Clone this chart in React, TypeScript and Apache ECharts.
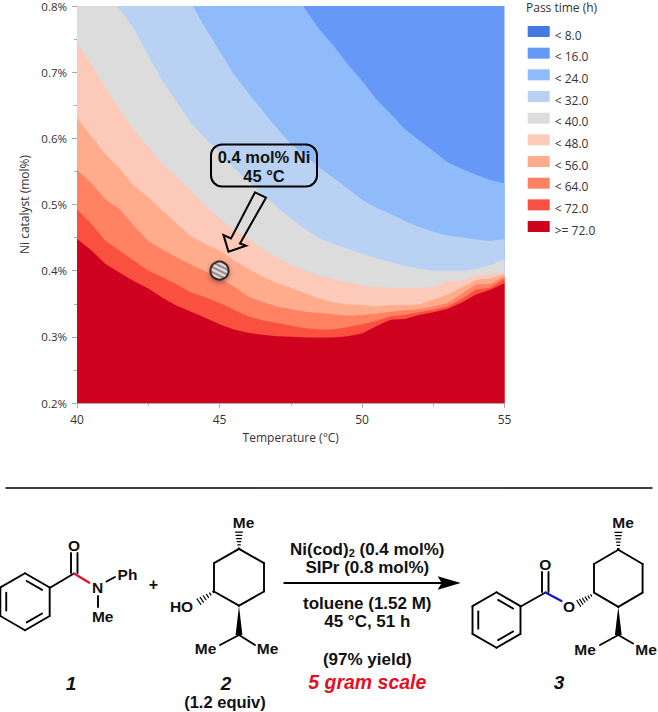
import React, { useEffect, useRef } from "react";
import * as echarts from "echarts";

// ---------- chart data ----------
const temps = [40, 40.5, 41, 41.5, 42, 42.5, 43, 43.5, 44, 44.5, 45, 45.5, 46, 46.5, 47, 47.5, 48, 48.5, 49, 49.5, 50, 50.5, 51, 51.5, 52, 52.5, 53, 53.5, 54, 54.5, 55];
const CAP = 0.8;
const cap16 = [CAP, CAP, CAP, CAP, CAP, CAP, CAP, CAP, CAP, CAP, CAP, CAP, CAP, CAP, CAP, CAP, 0.796, 0.765, 0.74, 0.712, 0.687, 0.659, 0.637, 0.614, 0.597, 0.581, 0.564, 0.554, 0.545, 0.537, 0.532];
const cap24 = [CAP, CAP, CAP, CAP, CAP, CAP, CAP, CAP, CAP, 0.767, 0.732, 0.697, 0.669, 0.642, 0.616, 0.592, 0.574, 0.556, 0.54, 0.524, 0.507, 0.495, 0.486, 0.475, 0.466, 0.459, 0.453, 0.45, 0.447, 0.445, 0.448];
const cap32 = [CAP, CAP, CAP, 0.795, 0.766, 0.725, 0.687, 0.655, 0.623, 0.6, 0.578, 0.556, 0.535, 0.515, 0.497, 0.479, 0.463, 0.449, 0.44, 0.433, 0.426, 0.419, 0.413, 0.407, 0.403, 0.4, 0.4, 0.4, 0.402, 0.409, 0.417];
const cap40 = [0.745, 0.712, 0.676, 0.644, 0.612, 0.587, 0.561, 0.542, 0.521, 0.498, 0.479, 0.462, 0.449, 0.433, 0.42, 0.409, 0.4, 0.392, 0.387, 0.382, 0.378, 0.375, 0.374, 0.374, 0.374, 0.375, 0.384, 0.384, 0.393, 0.394, 0.398];
const cap48 = [0.631, 0.603, 0.576, 0.554, 0.528, 0.511, 0.491, 0.471, 0.452, 0.44, 0.43, 0.416, 0.403, 0.391, 0.381, 0.374, 0.366, 0.358, 0.352, 0.349, 0.348, 0.346, 0.348, 0.348, 0.349, 0.356, 0.364, 0.375, 0.386, 0.388, 0.395];
const cap56 = [0.552, 0.533, 0.508, 0.493, 0.468, 0.445, 0.432, 0.42, 0.409, 0.399, 0.389, 0.376, 0.361, 0.353, 0.346, 0.342, 0.338, 0.336, 0.334, 0.332, 0.333, 0.335, 0.338, 0.34, 0.342, 0.346, 0.351, 0.365, 0.379, 0.38, 0.391];
const cap64 = [0.493, 0.471, 0.445, 0.43, 0.415, 0.4, 0.39, 0.379, 0.367, 0.36, 0.351, 0.341, 0.331, 0.325, 0.321, 0.317, 0.313, 0.311, 0.311, 0.315, 0.319, 0.324, 0.331, 0.333, 0.337, 0.341, 0.346, 0.357, 0.371, 0.374, 0.388];
const cap72 = [0.448, 0.431, 0.41, 0.397, 0.384, 0.373, 0.359, 0.347, 0.338, 0.329, 0.319, 0.311, 0.306, 0.303, 0.301, 0.3, 0.299, 0.299, 0.299, 0.301, 0.305, 0.316, 0.326, 0.327, 0.333, 0.337, 0.342, 0.352, 0.364, 0.371, 0.381];
// temperatures where a band's upper edge leaves the top of the plot
const exit24 = 44.06;
const exit16 = 47.94;
const exit32 = 41.39;

const bandNames = ["< 8.0", "< 16.0", "< 24.0", "< 32.0", "< 40.0", "< 48.0", "< 56.0", "< 64.0", "< 72.0", ">= 72.0"];
const bandColors = ["#4478e2", "#6699f7", "#90bbfb", "#b9d2f3", "#dcdcdc", "#fdc9b8", "#ffac8d", "#ff8263", "#f9503f", "#cf0220"];
const axisTemp = { min: 40, max: 55, step: 5 };
const axisCat = { min: 0.2, max: 0.8, step: 0.1 };
const optimum = [[45, 0.4]];
const markerSize = 18;

const LAT = "Liberation Sans, Arial, sans-serif";

function edge(caps: number[], exit?: number) {
  const pts: number[][] = [];
  temps.forEach((t, i) => {
    if (exit !== undefined && t < exit && caps[i] >= CAP) {
      if (i === 0) pts.push([t, CAP]);
      return;
    }
    if (exit !== undefined && pts.length === 1) pts.push([exit, CAP]);
    pts.push([t, caps[i]]);
  });
  return pts;
}

function stripes() {
  const c = document.createElement("canvas");
  c.width = 10;
  c.height = 5;
  const g = c.getContext("2d")!;
  g.fillStyle = "#f4f4f4";
  g.fillRect(0, 0, 10, 5);
  g.strokeStyle = "#80858d";
  g.lineWidth = 2.1;
  for (let k = -2; k <= 2; k++) {
    g.beginPath();
    g.moveTo(-1, k * 5 - 0.5);
    g.lineTo(11, k * 5 + 5.5);
    g.stroke();
  }
  return c;
}

// ---------- scheme helpers ----------
type P = [number, number];
const ln = (a: P, b: P, color = "#000", w = 1.9) => ({
  type: "line", silent: true, z: 10,
  shape: { x1: a[0], y1: a[1], x2: b[0], y2: b[1] },
  style: { stroke: color, lineWidth: w, lineCap: "round" },
});
const txt = (s: string, x: number, y: number, size = 15.5, extra: any = {}) => ({
  type: "text", silent: true, z: 11,
  style: {
    text: s, x, y, align: "center", verticalAlign: "middle", fill: "#111",
    font: `bold ${size}px ${LAT}`, ...extra,
  },
});
function hash(a: P, b: P, n = 6) {
  const out: any[] = [];
  const dx = b[0] - a[0], dy = b[1] - a[1];
  const L = Math.hypot(dx, dy), nx = -dy / L, ny = dx / L;
  for (let i = 0; i < n; i++) {
    const f = (i + 0.3) / n, h = 0.6 + f * 3.2;
    const c: P = [a[0] + dx * f, a[1] + dy * f];
    out.push(ln([c[0] - nx * h, c[1] - ny * h], [c[0] + nx * h, c[1] + ny * h], "#000", 1.2));
  }
  return out;
}
const wedge = (a: P, b: P, w = 3.4) => ({
  type: "polygon", silent: true, z: 10,
  shape: { points: [a, [b[0] - w, b[1]], [b[0] + w, b[1]]] },
  style: { fill: "#000" },
});
function benzene(cx: number, cy: number, r: number) {
  const v: P[] = [];
  for (let i = 0; i < 6; i++) {
    const a = -Math.PI / 2 + (i * Math.PI) / 3;
    v.push([cx + r * Math.cos(a), cy + r * Math.sin(a)]);
  }
  const out: any[] = [];
  for (let i = 0; i < 6; i++) out.push(ln(v[i], v[(i + 1) % 6]));
  [0, 2, 4].forEach((i) => {
    const p = v[i], q = v[(i + 1) % 6];
    const s = 0.76;
    const pi: P = [cx + (p[0] - cx) * s, cy + (p[1] - cy) * s];
    const qi: P = [cx + (q[0] - cx) * s, cy + (q[1] - cy) * s];
    const mx = (pi[0] + qi[0]) / 2, my = (pi[1] + qi[1]) / 2;
    out.push(ln([mx + (pi[0] - mx) * 0.82, my + (pi[1] - my) * 0.82], [mx + (qi[0] - mx) * 0.82, my + (qi[1] - my) * 0.82]));
  });
  return out;
}
function cyclohexane(cx: number, cy: number, rx: number, ry: number) {
  const v: P[] = [
    [cx, cy - 2 * ry], [cx + rx, cy - ry], [cx + rx, cy + ry],
    [cx, cy + 2 * ry], [cx - rx, cy + ry], [cx - rx, cy - ry],
  ];
  return v.map((p, i) => ln(p, v[(i + 1) % 6]));
}
function schemeElements() {
  const el: any[] = [];
  const it = (size: number, fill = "#111") => ({ font: `italic bold ${size}px ${LAT}`, fill });
  // separator
  el.push(ln([6, 488], [652, 488], "#000", 1.5));
  // compound 1
  el.push(...benzene(25, 601.7, 28.5));
  el.push(ln([50, 587.7], [74, 573.5]));
  el.push(ln([71, 573], [71, 553]), ln([77.5, 573], [77.5, 553]));
  el.push(txt("O", 74, 545.5));
  el.push(ln([74, 573.5], [89.3, 582.7], "#e0102a", 2.2));
  el.push(txt("N", 97.7, 587.5));
  el.push(ln([106.5, 581.5], [115, 577]));
  el.push(txt("Ph", 127.5, 574));
  el.push(ln([98, 596], [98, 607]));
  el.push(txt("Me", 102.7, 616));
  el.push(txt("+", 153.3, 584.5, 16));
  // compound 2
  el.push(...cyclohexane(239, 577.3, 25, 14.2));
  el.push(...hash([239, 549], [239, 530]));
  el.push(txt("Me", 243.5, 522));
  el.push(...hash([214, 591.5], [197, 603]));
  el.push(txt("HO", 181.5, 606));
  el.push(wedge([239, 606], [239, 635]));
  el.push(ln([239, 635], [220, 645]), ln([239, 635], [255, 645]));
  el.push(txt("Me", 205.5, 648), txt("Me", 267.5, 648));
  el.push(txt("1", 71, 683, 19, it(19)));
  el.push(txt("2", 226, 683, 19, it(19)));
  el.push(txt("(1.2 equiv)", 225, 702, 16.5));
  // conditions
  el.push({
    type: "text", silent: true, z: 11,
    style: {
      text: "Ni(cod){s|2} (0.4 mol%)", x: 367.3, y: 549, align: "center", verticalAlign: "middle", fill: "#111",
      font: `bold 17px ${LAT}`,
      rich: {
        s: { font: `bold 11px ${LAT}`, fill: "#111", verticalAlign: "bottom", padding: [8, 0, 0, 0] },
      },
    },
  });
  el.push(txt("SIPr (0.8 mol%)", 367.3, 567.3, 17));
  el.push(ln([284.3, 583], [442, 583], "#000", 2));
  el.push({
    type: "polygon", silent: true, z: 10,
    shape: { points: [[460.7, 583], [437.7, 576.3], [441.7, 583], [437.7, 589.7]] },
    style: { fill: "#000" },
  });
  el.push(txt("toluene (1.52 M)", 367.3, 603.3, 17));
  el.push(txt("45 °C, 51 h", 367.3, 621.7, 17));
  el.push(txt("(97% yield)", 367.3, 659, 17));
  el.push(txt("5 gram scale", 367.3, 681.7, 19.5, it(19.5, "#e3101f")));
  // compound 3
  el.push(...benzene(496.5, 620, 27.7));
  el.push(ln([520.7, 606.5], [545.5, 592.5]));
  el.push(ln([542, 592], [542, 572]), ln([548.5, 592], [548.5, 572]));
  el.push(txt("O", 545.3, 564));
  el.push(ln([545.5, 592.5], [561.5, 601], "#1414c8", 2.2));
  el.push(txt("O", 569, 606));
  el.push(...hash([592, 595], [577, 604.5]));
  el.push(...cyclohexane(618.3, 578.3, 24.3, 14.3));
  el.push(...hash([618.3, 549.5], [618.3, 530]));
  el.push(txt("Me", 623, 522));
  el.push(wedge([618.3, 606.7], [618.3, 635]));
  el.push(ln([618.3, 635], [600, 645]), ln([618.3, 635], [633, 643.5]));
  el.push(txt("Me", 585, 649), txt("Me", 646, 649));
  el.push(txt("3", 559, 682, 19, it(19)));
  return el;
}

export default function App() {
  const ref = useRef<HTMLDivElement>(null);
  useEffect(() => {
    const chart = echarts.init(ref.current!, undefined, { renderer: "svg" });
    const UI = "Open Sans, Noto Sans, sans-serif";
    const area = (i: number, data: number[][]) => ({
      name: bandNames[i],
      type: "line",
      data,
      symbol: "none",
      silent: true,
      clip: true,
      z: 2 + i / 10,
      itemStyle: { color: bandColors[i] },
      lineStyle: { width: 0, color: bandColors[i] },
      areaStyle: { color: bandColors[i], opacity: 1, origin: "start" },
    });
    chart.setOption({
      animation: false,
      backgroundColor: "#fff",
      grid: { left: 77, top: 5, width: 427.5, height: 398, containLabel: false },
      xAxis: {
        type: "value", min: axisTemp.min, max: axisTemp.max, interval: axisTemp.step,
        name: "Temperature (°C)", nameLocation: "middle", nameGap: 28,
        nameTextStyle: { color: "#333", fontFamily: UI, fontSize: 12 },
        axisLine: { onZero: false, lineStyle: { color: "#ababab", width: 1 } },
        axisTick: { length: 5, lineStyle: { color: "#ababab" } },
        minorTick: { show: true, splitNumber: 2, length: 3, lineStyle: { color: "#ababab" } },
        axisLabel: { color: "#333", fontFamily: UI, fontSize: 12, margin: 10 },
        splitLine: { show: false },
      },
      yAxis: {
        type: "value", min: axisCat.min, max: axisCat.max, interval: axisCat.step,
        name: "Ni catalyst (mol%)", nameLocation: "middle", nameGap: 47, nameRotate: 90,
        nameTextStyle: { color: "#333", fontFamily: UI, fontSize: 12 },
        axisLine: { onZero: false, lineStyle: { color: "#ababab", width: 1 } },
        axisTick: { length: 5, lineStyle: { color: "#ababab" } },
        minorTick: { show: true, splitNumber: 2, length: 3, lineStyle: { color: "#ababab" } },
        axisLabel: { color: "#333", fontFamily: UI, fontSize: 11.5, margin: 10, formatter: (v: number) => v.toFixed(1) + "%" },
        splitLine: { show: false },
      },
      legend: {
        show: true, orient: "vertical", left: 527.7, top: 26, padding: 0, itemWidth: 22, itemHeight: 18, itemGap: 3.67,
        selectedMode: false, icon: "path://M0 0H22V11H0Z M0 18H0", data: bandNames,
        textStyle: { color: "#333", fontFamily: UI, fontSize: 12 },
      },
      series: [
        area(0, []),
        area(1, [[axisTemp.min, CAP], [axisTemp.max, CAP]]),
        area(2, edge(cap16, exit16)),
        area(3, edge(cap24, exit24)),
        area(4, edge(cap32, exit32)),
        area(5, edge(cap40)),
        area(6, edge(cap48)),
        area(7, edge(cap56)),
        area(8, edge(cap64)),
        area(9, edge(cap72)),
        {
          name: "optimum",
          type: "scatter",
          data: optimum,
          symbol: "circle",
          symbolSize: markerSize,
          silent: true,
          z: 5,
          itemStyle: {
            color: { image: stripes(), repeat: "repeat", scaleX: 2 / markerSize, scaleY: 2 / markerSize },
            borderColor: "#111",
            borderWidth: 2,
            shadowBlur: 5,
            shadowColor: "rgba(0,0,0,0.45)",
            shadowOffsetY: 2,
          },
        },
      ],
      graphic: [
        {
          type: "text", silent: true,
          style: { text: "Pass time (h)", x: 526, y: 7.5, fill: "#333", font: `12px ${UI}`, align: "left", verticalAlign: "middle" },
        },
        {
          type: "rect", silent: true, z: 10,
          shape: { x: 211, y: 144.5, width: 106, height: 42, r: 11 },
          style: { fill: "none", stroke: "#000", lineWidth: 2 },
        },
        txt("0.4 mol% Ni", 264, 156.5, 16.5),
        txt("45 °C", 264, 175.5, 16.5),
        {
          type: "polygon", silent: true, z: 10,
          shape: { points: [[255, 192.3], [266, 197.7], [240, 243.5], [246, 245.7], [228.5, 251.7], [223.5, 235], [231, 238.5]] },
          style: { fill: "none", stroke: "#000", lineWidth: 2 },
        },
        ...schemeElements(),
      ],
    });
    return () => chart.dispose();
  }, []);
  return <div ref={ref} style={{ position: "absolute", left: 0, top: 0, width: 658, height: 712 }} />;
}
